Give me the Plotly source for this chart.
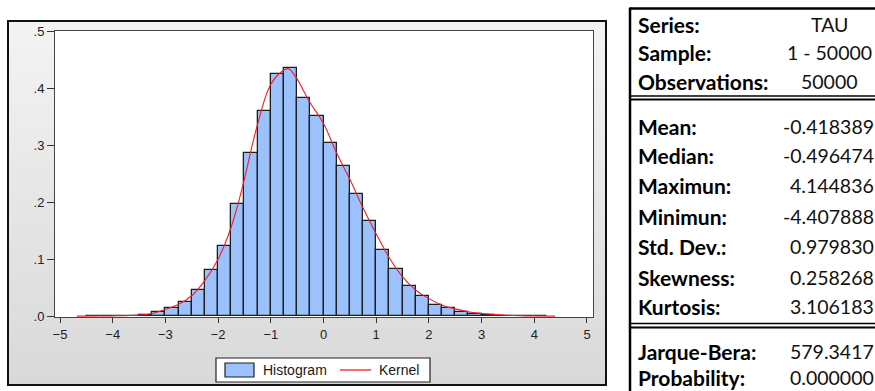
import plotly.graph_objects as go

# Histogram of TAU: left bin edges (width 0.25) and density per bin
bin_lo = [-4.5, -4.25, -4.0, -3.75, -3.5, -3.25, -3.0, -2.75, -2.5, -2.25,
          -2.0, -1.75, -1.5, -1.25, -1.0, -0.75, -0.5, -0.25, 0.0, 0.25,
          0.5, 0.75, 1.0, 1.25, 1.5, 1.75, 2.0, 2.25, 2.5, 2.75,
          3.0, 3.25, 3.5, 3.75, 4.0]
density = [0.0002, 0.0003, 0.0006, 0.0012, 0.003, 0.007, 0.015, 0.0245, 0.046, 0.081,
           0.123, 0.196, 0.286, 0.359, 0.424, 0.436, 0.382, 0.351, 0.303, 0.263,
           0.215, 0.167, 0.117, 0.0835, 0.054, 0.035, 0.020, 0.014, 0.007, 0.0046,
           0.0025, 0.0014, 0.0008, 0.0004, 0.0002]
bin_width = 0.25

# Kernel density estimate
kernel_x = [-4.68, -4.25, -4.0, -3.75, -3.5, -3.25, -3.0, -2.75, -2.5, -2.25,
            -2.0, -1.75, -1.55, -1.27, -1.02, -0.83, -0.67, -0.51, -0.26, 0.0,
            0.25, 0.5, 0.74, 0.99, 1.245, 1.5, 1.75, 2.0, 2.24, 2.5,
            2.75, 3.0, 3.25, 3.5, 3.75, 4.0, 4.39]
kernel_y = [0.0003, 0.0005, 0.0008, 0.0012, 0.002, 0.005, 0.012, 0.021, 0.036, 0.063,
            0.100, 0.157, 0.222, 0.330, 0.403, 0.426, 0.434, 0.417, 0.375, 0.338,
            0.286, 0.240, 0.192, 0.146, 0.103, 0.069, 0.046, 0.031, 0.020, 0.013,
            0.008, 0.005, 0.003, 0.0018, 0.001, 0.0006, 0.0003]

x_ticks = [-5, -4, -3, -2, -1, 0, 1, 2, 3, 4, 5]
y_ticks = [0.0, 0.1, 0.2, 0.3, 0.4, 0.5]
y_tick_text = [".0", ".1", ".2", ".3", ".4", ".5"]

# Descriptive statistics table
stats_top = [("Series:", "TAU"), ("Sample:", "1 - 50000"), ("Observations:", "50000")]
stats_mid = [("Mean:", "-0.418389"), ("Median:", "-0.496474"), ("Maximun:", "4.144836"),
             ("Minimun:", "-4.407888"), ("Std. Dev.:", "0.979830"),
             ("Skewness:", "0.258268"), ("Kurtosis:", "3.106183")]
stats_bot = [("Jarque-Bera:", "579.3417"), ("Probability:", "0.000000")]

W, H = 875, 391
PL, PR, PT, PB = 55, 593, 31, 317  # plot box in pixels


def px(x):
    return (x - PL) / (PR - PL)


def py(y):
    return (PB - y) / (PB - PT)


fig = go.Figure()
fig.add_trace(go.Bar(
    x=bin_lo, y=density, width=bin_width, offset=0,
    marker=dict(color="#9bc2fc", line=dict(color="#1e1e1e", width=1.3)),
    showlegend=False, hoverinfo="skip"))
fig.add_trace(go.Scatter(
    x=kernel_x, y=kernel_y, mode="lines", line=dict(color="#f02020", width=1.1, shape="spline"),
    showlegend=False, hoverinfo="skip"))

shapes = []
# graph panel with vertical grey gradient
p_top, p_bot, p_left, p_right = 21, 385, 8, 606
n = 40
c0, c1 = 243, 217
for i in range(n):
    y0 = p_top + (p_bot - p_top) * i / n
    y1 = p_top + (p_bot - p_top) * (i + 1) / n
    g = round(c0 + (c1 - c0) * i / (n - 1))
    shapes.append(dict(type="rect", xref="paper", yref="paper", layer="below",
                       x0=px(p_left), x1=px(p_right), y0=py(y0), y1=py(y1 + 0.5),
                       fillcolor=f"rgb({g},{g},{g})", line=dict(width=0)))
# white plotting area
shapes.append(dict(type="rect", xref="paper", yref="paper", layer="below",
                   x0=0, x1=1, y0=0, y1=1, fillcolor="white", line=dict(width=0)))
# panel frame
shapes.append(dict(type="rect", xref="paper", yref="paper",
                   x0=px(p_left), x1=px(p_right), y0=py(p_bot), y1=py(p_top),
                   line=dict(color="#111111", width=2)))

# legend box
lg_l, lg_r, lg_t, lg_b = 216, 430, 358, 382
shapes.append(dict(type="rect", xref="paper", yref="paper",
                   x0=px(lg_l), x1=px(lg_r), y0=py(lg_b), y1=py(lg_t),
                   fillcolor="white", line=dict(color="#222222", width=1.2)))
shapes.append(dict(type="rect", xref="paper", yref="paper",
                   x0=px(225), x1=px(254), y0=py(377), y1=py(363),
                   fillcolor="#9bc2fc", line=dict(color="#1e1e1e", width=1.2)))
shapes.append(dict(type="line", xref="paper", yref="paper",
                   x0=px(340), x1=px(371), y0=py(370), y1=py(370),
                   line=dict(color="#f02020", width=1.3)))

# statistics table frame
t_left, t_top = 630, 8.5
shapes.append(dict(type="line", xref="paper", yref="paper",
                   x0=px(t_left), x1=px(t_left), y0=py(t_top - 1), y1=py(H + 2),
                   line=dict(color="black", width=2.5)))
shapes.append(dict(type="line", xref="paper", yref="paper",
                   x0=px(t_left), x1=px(W + 2), y0=py(t_top), y1=py(t_top),
                   line=dict(color="black", width=2.5)))
for ya, yb in [(96, 99.5), (323.5, 327.5)]:
    shapes.append(dict(type="line", xref="paper", yref="paper",
                       x0=px(t_left), x1=px(W + 2), y0=py(ya), y1=py(ya),
                       line=dict(color="black", width=1.3)))
    shapes.append(dict(type="line", xref="paper", yref="paper",
                       x0=px(t_left), x1=px(W + 2), y0=py(yb), y1=py(yb),
                       line=dict(color="black", width=2)))

leg_font = dict(family="Liberation Sans", size=14, color="#1a1a1a")
annotations = [
    dict(text="Histogram", xref="paper", yref="paper", x=px(261), y=py(370),
         xanchor="left", yanchor="middle", showarrow=False, font=leg_font),
    dict(text="Kernel", xref="paper", yref="paper", x=px(377), y=py(370),
         xanchor="left", yanchor="middle", showarrow=False, font=leg_font),
]

lab_font = dict(family="Lato", size=21, color="black")
val_font = dict(family="Lato", size=19.5, color="#111111")
rows = [(stats_top, [24, 53, 81.5], "center"),
        (stats_mid, [126.5, 155, 185, 216, 246.5, 277, 306.5], "right"),
        (stats_bot, [351, 377], "right")]
for block, ys, align in rows:
    for (lab, val), yy in zip(block, ys):
        annotations.append(dict(text=f"<b>{lab}</b>", xref="paper", yref="paper",
                                x=px(636), y=py(yy), xanchor="left", yanchor="middle",
                                showarrow=False, font=lab_font))
        if align == "center":
            annotations.append(dict(text=val, xref="paper", yref="paper",
                                    x=px(829), y=py(yy), xanchor="center", yanchor="middle",
                                    showarrow=False, font=val_font))
        else:
            annotations.append(dict(text=val, xref="paper", yref="paper",
                                    x=px(876), y=py(yy), xanchor="right", yanchor="middle",
                                    showarrow=False, font=val_font))

tick_font = dict(family="Liberation Sans", size=13, color="#222222")
fig.update_layout(
    width=W, height=H,
    margin=dict(l=PL, r=W - PR, t=PT, b=H - PB, pad=0),
    paper_bgcolor="white", plot_bgcolor="rgba(0,0,0,0)",
    shapes=shapes, annotations=annotations,
    bargap=0,
    xaxis=dict(range=[-5.095, 5.114], tickvals=x_ticks, ticks="outside", ticklen=5,
               tickcolor="#333333", showgrid=False, zeroline=False,
               showline=True, mirror=True, linecolor="#444444", linewidth=1,
               tickfont=tick_font),
    yaxis=dict(range=[-0.0012, 0.5], tickvals=y_ticks, ticktext=y_tick_text,
               ticks="outside", ticklen=7, tickcolor="#333333",
               showgrid=False, zeroline=False,
               showline=True, mirror=True, linecolor="#444444", linewidth=1,
               tickfont=tick_font),
)

fig.write_html("out.html")
